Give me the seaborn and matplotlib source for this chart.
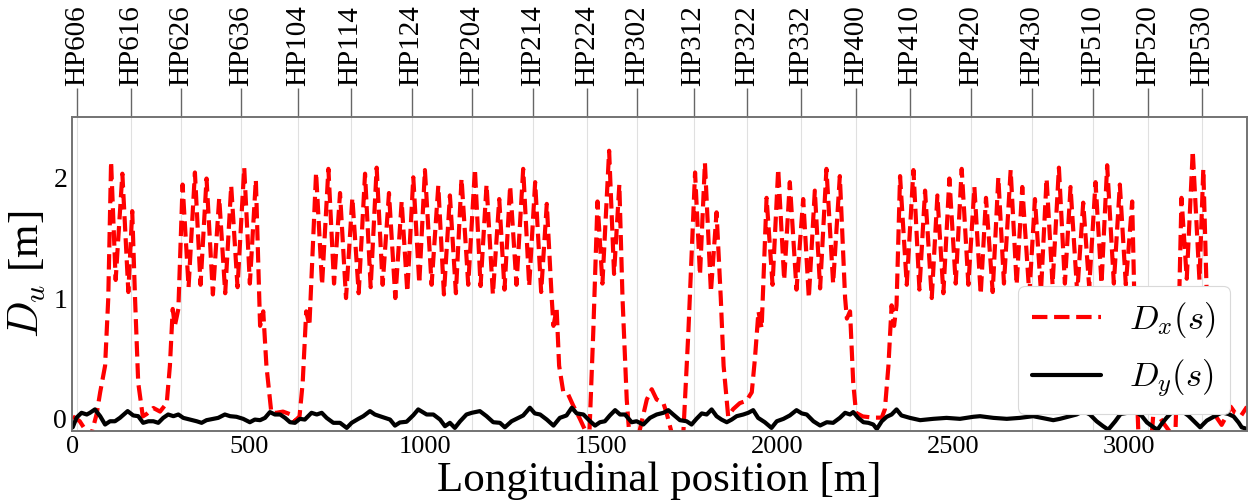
import pandas as pd
import matplotlib
matplotlib.use("Agg")
import matplotlib.pyplot as plt
import seaborn as sns

# -------------------------------
# DATA
# -------------------------------
hp_names = ["HP606", "HP616", "HP626", "HP636", "HP104", "HP114", "HP124",
            "HP204", "HP214", "HP224", "HP302", "HP312", "HP322", "HP332",
            "HP400", "HP410", "HP420", "HP430", "HP510", "HP520", "HP530"]
hp_pos = [13, 166, 307, 479, 639, 789, 962,
          1135, 1308, 1461, 1603, 1763, 1915, 2069,
          2224, 2378, 2551, 2725, 2898, 3054, 3207]

x_ticks = [0, 500, 1000, 1500, 2000, 2500, 3000]
y_ticks = [0, 1, 2]

# horizontal dispersion D_x(s) [m]
dx_s = [0, 20, 38, 50, 60, 68, 78, 92, 101,
        109, 122, 141, 158, 169, 177, 186, 199, 210, 229, 248, 267, 276, 284, 290, 300,
        312, 329, 347, 363, 380, 398, 416, 433, 450, 468, 487, 503, 520,
        532, 541, 550, 564, 578, 597, 616, 630, 644, 653, 663, 672,
        691, 708, 726, 742, 759, 776, 794, 812, 830, 846, 863, 880, 898, 916, 934, 950,
        967, 984, 1000, 1019, 1038, 1054, 1071, 1088, 1104, 1123, 1142, 1158, 1175, 1193,
        1211, 1226, 1242, 1260, 1279, 1296, 1313, 1330, 1346,
        1360, 1365, 1374, 1381, 1393, 1407, 1421, 1440, 1459, 1466, 1478,
        1490, 1504, 1523, 1537, 1552, 1561, 1573, 1580, 1595, 1611, 1630, 1644, 1658,
        1677, 1686, 1701, 1718, 1734, 1748,
        1767, 1781, 1795, 1812, 1828, 1840, 1848, 1861, 1875, 1894, 1913, 1928, 1937,
        1947, 1956,
        1970, 1987, 2003, 2020, 2036, 2055, 2074, 2090, 2107, 2122, 2140, 2159, 2178,
        2193, 2198, 2207, 2216, 2224, 2243, 2273, 2297, 2306, 2316, 2325, 2332, 2339,
        2349, 2368, 2387, 2404, 2420, 2439, 2455, 2472, 2489, 2507, 2524, 2543, 2560,
        2578, 2593, 2612, 2628, 2644, 2663, 2680, 2696, 2716, 2732, 2749, 2765, 2782,
        2800, 2817, 2833, 2852, 2869, 2886, 2904, 2921, 2937, 2956, 2973, 2990, 3008,
        3018, 3026, 3045, 3064, 3070, 3078, 3098, 3118, 3130, 3140,
        3148, 3163, 3180, 3199, 3210, 3219, 3232, 3248, 3262, 3275, 3288, 3300, 3318, 3334]
dx_val = [0.02, -0.02, -0.10, -0.16, -0.05, 0.04, 0.22, 0.44, 1.00,
          2.13, 1.15, 2.03, 1.05, 1.72, 1.00, 0.30, 0.02, 0.04, 0.09, 0.06, 0.13, 0.44, 0.91, 0.77, 0.91,
          1.94, 1.09, 2.04, 1.11, 1.99, 1.03, 1.83, 1.04, 1.93, 1.09, 2.08, 1.12, 1.98,
          0.77, 0.89, 0.44, 0.05, 0.05, 0.06, 0.04, -0.02, 0.02, 0.30, 0.89, 0.77,
          2.04, 1.11, 2.07, 1.12, 1.87, 1.00, 1.83, 1.04, 2.03, 1.09, 2.08, 1.11, 1.87, 1.00, 1.80, 1.05,
          2.00, 1.12, 2.06, 1.11, 1.93, 1.03, 1.85, 1.04, 1.99, 1.11, 2.07, 1.10, 1.94, 1.03,
          1.82, 1.07, 1.93, 1.11, 2.07, 1.10, 1.96, 1.05, 1.78,
          1.00, 0.77, 0.91, 0.44, 0.22, 0.20, 0.11, 0.00, -0.12, -0.20, 0.72,
          1.80, 1.12, 2.22, 1.20, 1.94, 1.00, 0.16, -0.12, -0.30, -0.08, 0.16, 0.245, 0.16,
          0.13, 0.05, -0.12, -0.30, -0.10, 0.72,
          2.04, 1.19, 2.12, 1.05, 1.71, 1.00, 0.44, 0.02, 0.08, 0.13, 0.15, 0.22, 0.50,
          0.89, 0.75,
          1.83, 1.11, 2.07, 1.15, 1.96, 1.07, 1.82, 1.00, 1.89, 1.08, 2.07, 1.12, 2.01,
          1.00, 0.83, 0.89, 0.30, 0.05, 0.02, 0.01, 0.01, 0.08, 0.44, 0.94, 0.77, 0.94,
          2.01, 1.11, 2.06, 1.07, 1.89, 1.00, 1.85, 1.04, 1.99, 1.12, 2.07, 1.11, 1.92,
          1.03, 1.83, 1.05, 2.00, 1.12, 2.06, 1.11, 1.92, 1.03, 1.82, 1.05, 1.99, 1.11,
          2.08, 1.12, 1.92, 1.04, 1.79, 1.09, 1.96, 1.12, 2.10, 1.12, 1.94, 1.11, 1.80,
          0.50, -0.15, -0.30, -0.12, 0.12, 0.05, -0.04, -0.12, -0.20, 0.80,
          1.83, 1.16, 2.22, 1.15, 2.07, 1.10, 0.30, 0.01, -0.05, 0.02, 0.10, 0.05, 0.03, 0.10]

# vertical dispersion D_y(s) [m]
dy_s = [0, 11, 25, 40, 49, 63, 78, 92, 106, 120, 134, 156, 172, 186, 200, 215, 229,
        243, 257, 271, 286, 300, 314, 333, 352, 366, 380, 399, 413, 432, 447, 465, 484,
        503, 517, 532, 546, 560, 574, 589, 603, 617, 631, 645, 659, 678, 693, 707, 721,
        740, 759, 778, 792, 811, 825, 844, 858, 872, 887, 901, 915, 929, 948, 967, 981,
        1005, 1024, 1043, 1057, 1071, 1085, 1100, 1118, 1133, 1156, 1175, 1194, 1213,
        1227, 1246, 1265, 1279, 1298, 1312, 1327, 1346, 1365, 1383, 1402, 1417, 1431,
        1450, 1469, 1483, 1497, 1511, 1525, 1540, 1554, 1568, 1587, 1601, 1620, 1639,
        1658, 1677, 1691, 1705, 1724, 1743, 1757, 1771, 1786, 1800, 1814, 1828, 1842,
        1857, 1871, 1885, 1904, 1918, 1932, 1946, 1965, 1984, 1999, 2018, 2036, 2055,
        2070, 2084, 2103, 2122, 2141, 2159, 2178, 2193, 2207, 2216, 2230, 2245, 2259,
        2273, 2283, 2297, 2311, 2325, 2339, 2353, 2377, 2406, 2443, 2481, 2519, 2557,
        2576, 2614, 2652, 2689, 2727, 2765, 2784, 2803, 2831, 2850, 2869, 2888, 2907,
        2925, 2940, 2960, 2975, 3000, 3021, 3035, 3050, 3069, 3080, 3092, 3106, 3120,
        3149, 3168, 3187, 3201, 3220, 3244, 3263, 3281, 3296, 3310, 3319, 3330]
dy_val = [-0.070, 0.010, 0.050, 0.036, 0.050, 0.078, 0.022, -0.047, -0.020, -0.020,
          0.008, 0.064, 0.028, 0.022, -0.033, -0.020, -0.020, -0.033, 0.008, 0.036,
          0.022, 0.036, 0.008, -0.006, -0.020, -0.033, -0.011, 0.000, 0.008, 0.036,
          0.022, 0.017, 0.000, -0.028, -0.006, -0.011, 0.008, 0.056, 0.036, 0.036,
          0.008, -0.028, -0.033, 0.000, -0.006, 0.050, 0.036, 0.050, 0.008, -0.033,
          -0.033, -0.075, -0.033, 0.000, 0.022, 0.064, 0.036, 0.022, 0.008, -0.006,
          -0.056, -0.030, -0.024, 0.030, 0.078, 0.036, 0.036, -0.006, -0.061, -0.033,
          -0.075, -0.020, 0.036, 0.050, 0.064, 0.022, -0.028, -0.033, -0.070, -0.020,
          0.008, 0.028, 0.092, 0.045, 0.036, -0.006, -0.056, 0.008, 0.028, 0.092,
          0.045, 0.036, -0.020, -0.056, -0.028, -0.020, 0.028, 0.072, 0.036, 0.036,
          -0.028, -0.020, -0.047, 0.008, 0.036, 0.050, 0.072, 0.036, -0.011, -0.020,
          -0.047, 0.000, 0.045, 0.036, 0.078, 0.022, -0.006, -0.028, -0.006, 0.022,
          0.036, 0.050, 0.072, 0.008, -0.028, -0.075, -0.020, 0.000, 0.028, 0.072,
          0.045, 0.036, -0.020, -0.055, -0.028, -0.033, 0.008, 0.050, 0.036, 0.056,
          0.008, -0.028, -0.033, -0.047, -0.084, -0.020, 0.017, 0.036, 0.078, 0.028,
          0.008, -0.011, 0.000, 0.008, 0.000, 0.017, 0.022, 0.008, 0.000, 0.008,
          0.022, 0.000, -0.011, 0.000, 0.022, 0.036, 0.064, 0.036, -0.020, -0.060,
          -0.090, -0.020, 0.040, 0.053, 0.053, 0.025, -0.030, -0.070, -0.090, -0.040,
          0.010, 0.053, 0.066, 0.025, -0.030, -0.070, -0.014, 0.025, 0.053, 0.040,
          0.020, -0.030, -0.070, -0.080]

dx_df = pd.DataFrame({"s": dx_s, "D": dx_val})
dy_df = pd.DataFrame({"s": dy_s, "D": dy_val})

# -------------------------------
# STYLE
# -------------------------------
sns.set_theme(style="whitegrid", context="paper")
plt.rcParams["font.family"] = ["Liberation Serif", "DejaVu Serif"]
plt.rcParams["mathtext.fontset"] = "cm"
plt.rcParams["axes.edgecolor"] = "0.45"
plt.rcParams["axes.linewidth"] = 1.2
for key in ["text.color", "axes.labelcolor", "xtick.color", "ytick.color"]:
    plt.rcParams[key] = "black"

# -------------------------------
# PLOT
# -------------------------------
fig, ax = plt.subplots(figsize=(12.52, 5.04), dpi=100)
fig.subplots_adjust(left=0.0575, right=0.996, top=0.768, bottom=0.145)

ax2 = ax.twiny()

sns.lineplot(data=dx_df, x="s", y="D", ax=ax, color="red", linestyle="--",
             linewidth=3, estimator=None, label=r"$D_x(s)$")
sns.lineplot(data=dy_df, x="s", y="D", ax=ax, color="black",
             linewidth=3, estimator=None, label=r"$D_y(s)$")

ax.set_xlim(-2, 3334)
ax.set_ylim(-0.1, 2.5)
ax.grid(False)
ax.set_xticks(x_ticks)
ax.set_yticks(y_ticks)
ax.tick_params(axis="x", labelsize=19, length=0)
ax.tick_params(axis="y", labelsize=20, length=0)
ax.set_xlabel("Longitudinal position [m]", fontsize=31, labelpad=2)
ax.set_ylabel(r"$D_u$ [m]", fontsize=31, labelpad=4)

ax.legend(loc="lower right", fontsize=25, framealpha=1, edgecolor="0.85")

# top axis with element names, drawn behind the curves
ax2.set_xlim(ax.get_xlim())
ax2.set_xticks(hp_pos)
ax2.set_xticklabels(hp_names, rotation=90, fontsize=21)
ax2.tick_params(axis="x", top=True, length=21, width=1, color="0.4", pad=1.5)
ax2.grid(axis="x", color="0.88", linewidth=0.8)
ax2.grid(axis="y", visible=False)
ax.set_zorder(ax2.get_zorder() + 1)
ax.patch.set_visible(False)

fig.savefig("out.png", dpi=100)
plt.close(fig)
